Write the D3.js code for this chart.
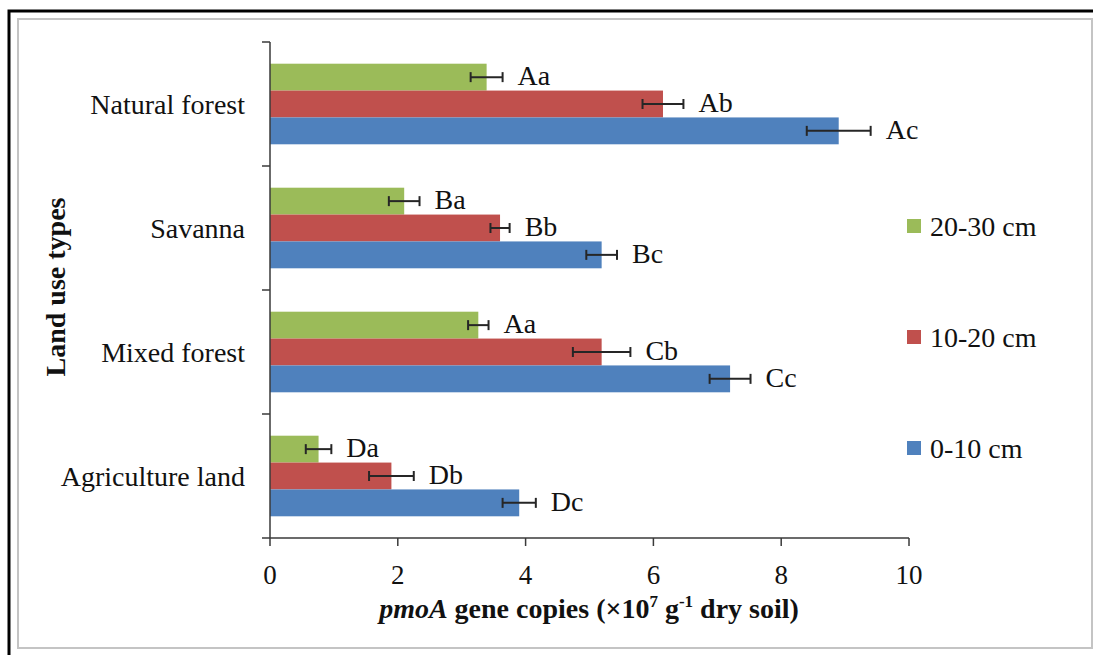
<!DOCTYPE html>
<html>
<head>
<meta charset="utf-8">
<script src="https://cdn.jsdelivr.net/npm/d3@7"></script>
<style>
  html, body { margin: 0; padding: 0; background: #fff; }
  svg { display: block; }
  text { font-family: "Liberation Serif", "Times New Roman", serif; fill: #111; }
</style>
</head>
<body>
<svg id="chart" width="1093" height="655"></svg>
<script>
// ---- data ----
const categories = ["Agriculture land", "Mixed forest", "Savanna", "Natural forest"];
const seriesNames = ["20-30 cm", "10-20 cm", "0-10 cm"];
const values0_10  = [3.90, 7.20, 5.19, 8.90];
const values10_20 = [1.90, 5.19, 3.60, 6.15];
const values20_30 = [0.76, 3.26, 2.10, 3.39];
const errors0_10  = [0.26, 0.32, 0.24, 0.50];
const errors10_20 = [0.35, 0.45, 0.15, 0.32];
const errors20_30 = [0.20, 0.16, 0.24, 0.25];
const letters0_10  = ["Dc", "Cc", "Bc", "Ac"];
const letters10_20 = ["Db", "Cb", "Bb", "Ab"];
const letters20_30 = ["Da", "Aa", "Ba", "Aa"];
const xTicks = [0, 2, 4, 6, 8, 10];
const legendOrder = ["20-30 cm", "10-20 cm", "0-10 cm"];

const colors = { "0-10 cm": "#4F81BD", "10-20 cm": "#C0504D", "20-30 cm": "#9BBB59" };
const seriesData = {
  "0-10 cm":  { v: values0_10,  e: errors0_10,  l: letters0_10 },
  "10-20 cm": { v: values10_20, e: errors10_20, l: letters10_20 },
  "20-30 cm": { v: values20_30, e: errors20_30, l: letters20_30 }
};

const svg = d3.select("#chart");

// frame
svg.append("rect").attr("x", 18).attr("y", 19).attr("width", 1074).attr("height", 629)
  .attr("fill", "none").attr("stroke", "#c4c4c4").attr("stroke-width", 2);
svg.append("path").attr("d", "M9,655 V11 H1093")
  .attr("fill", "none").attr("stroke", "#000").attr("stroke-width", 3);

const x = d3.scaleLinear().domain([0, 10]).range([270, 909]);
const y = d3.scaleBand().domain(categories).range([538, 42]).paddingInner(0.35).paddingOuter(0.175);
const yInner = d3.scaleBand().domain(seriesNames).range([0, y.bandwidth()]);
const step = y.step();

function stext(parent, tx, ty, str, size, anchor, weight) {
  return parent.append("text").attr("x", tx).attr("y", ty)
    .attr("font-size", size).attr("text-anchor", anchor || "start")
    .attr("font-weight", weight || "normal").text(str);
}

// bars
const rows = [];
categories.forEach((c, i) => {
  seriesNames.forEach(s => {
    rows.push({ cat: c, s: s, v: seriesData[s].v[i], e: seriesData[s].e[i], l: seriesData[s].l[i] });
  });
});

const gBars = svg.append("g");
gBars.selectAll("rect").data(rows).join("rect")
  .attr("x", x(0))
  .attr("y", d => y(d.cat) + yInner(d.s))
  .attr("width", d => x(d.v) - x(0))
  .attr("height", yInner.bandwidth())
  .attr("fill", d => colors[d.s]);

// error bars
const gErr = svg.append("g").attr("stroke", "#262626").attr("stroke-width", 2);
rows.forEach(d => {
  const cy = y(d.cat) + yInner(d.s) + yInner.bandwidth() / 2;
  gErr.append("line").attr("x1", x(d.v - d.e)).attr("x2", x(d.v + d.e)).attr("y1", cy).attr("y2", cy);
  gErr.append("line").attr("x1", x(d.v - d.e)).attr("x2", x(d.v - d.e)).attr("y1", cy - 5).attr("y2", cy + 5);
  gErr.append("line").attr("x1", x(d.v + d.e)).attr("x2", x(d.v + d.e)).attr("y1", cy - 5).attr("y2", cy + 5);
});

// significance letters
rows.forEach(d => {
  const cy = y(d.cat) + yInner(d.s) + yInner.bandwidth() / 2;
  stext(svg, x(d.v + d.e) + 15, cy + 8, d.l, 28);
});

// axes
const axisColor = "#3a3a3a";
svg.append("line").attr("x1", x(0)).attr("x2", x(0)).attr("y1", 42).attr("y2", 538)
  .attr("stroke", axisColor).attr("stroke-width", 1.5);
const boundaryYs = [538].concat(categories.map((c, i) => 538 - step * (i + 1)));
boundaryYs.forEach(by => {
  svg.append("line").attr("x1", x(0) - 8).attr("x2", x(0)).attr("y1", by).attr("y2", by)
    .attr("stroke", axisColor).attr("stroke-width", 1.5);
});
svg.append("line").attr("x1", x(0)).attr("x2", x(10)).attr("y1", 538).attr("y2", 538)
  .attr("stroke", axisColor).attr("stroke-width", 1.5);
xTicks.forEach(t => {
  svg.append("line").attr("x1", x(t)).attr("x2", x(t)).attr("y1", 538).attr("y2", 546)
    .attr("stroke", axisColor).attr("stroke-width", 1.5);
  stext(svg, x(t), 584, String(t), 27, "middle");
});

// category labels
categories.forEach(c => {
  stext(svg, 245, y(c) + y.bandwidth() / 2 + 10, c, 28, "end");
});

// axis titles
const tx = svg.append("text").attr("x", 589).attr("y", 618)
  .attr("font-size", 28).attr("font-weight", "bold").attr("text-anchor", "middle");
tx.append("tspan").attr("font-style", "italic").text("pmoA");
tx.append("tspan").text(" gene copies (×10");
tx.append("tspan").attr("font-size", 17).attr("dy", -11).text("7");
tx.append("tspan").attr("dy", 11).text(" g");
tx.append("tspan").attr("font-size", 17).attr("dy", -11).text("-1");
tx.append("tspan").attr("dy", 11).text(" dry soil)");

svg.append("text").attr("transform", "translate(65,287) rotate(-90)")
  .attr("font-size", 28).attr("font-weight", "bold").attr("text-anchor", "middle")
  .text("Land use types");

// legend
const legendYs = { "20-30 cm": 226, "10-20 cm": 337, "0-10 cm": 448 };
legendOrder.forEach(s => {
  const ly = legendYs[s];
  svg.append("rect").attr("x", 907).attr("y", ly - 7).attr("width", 14).attr("height", 14).attr("fill", colors[s]);
  stext(svg, 930, ly + 10, s, 28);
});
</script>
</body>
</html>
